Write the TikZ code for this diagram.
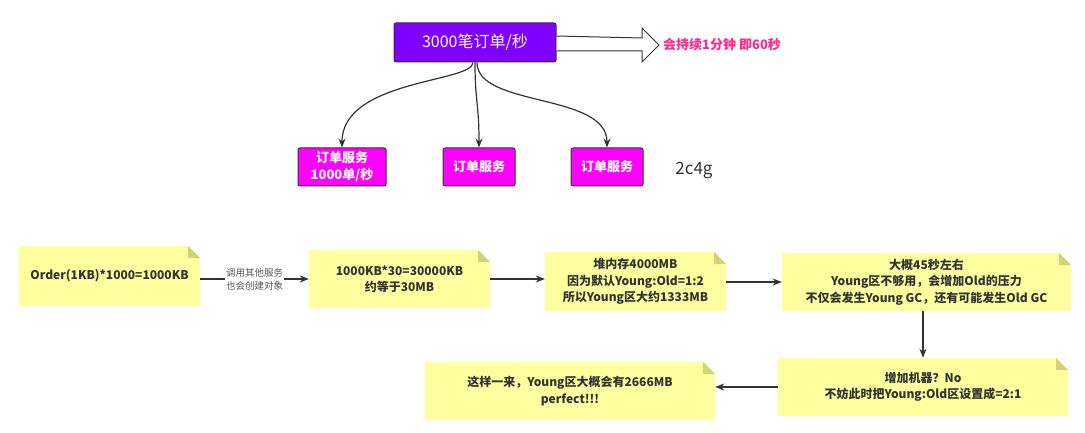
\documentclass[tikz,border=0pt]{standalone}
\usepackage{fontspec}
\setmainfont{Noto Sans CJK SC}
\usetikzlibrary{arrows.meta}
\definecolor{txt}{HTML}{333333}
\definecolor{notey}{HTML}{FFFFA0}
\definecolor{foldc}{HTML}{D2D27A}
\definecolor{purp}{HTML}{7F00FF}
\definecolor{mag}{HTML}{FF00FF}
\definecolor{pinkt}{HTML}{FF2A8A}
\definecolor{lbl}{HTML}{555555}
\tikzset{
  arr/.style={draw=txt, line width=1.2pt, -{Stealth[length=9pt,width=7pt]}},
  note/.style={inner sep=0pt, align=center, text=txt,
    font=\fontsize{12}{16.5}\selectfont\bfseries, fill=white,
    path picture={
      \fill[notey] (path picture bounding box.south west) -- (path picture bounding box.north west)
        -- ([xshift=-12pt]path picture bounding box.north east) -- ([yshift=-12pt]path picture bounding box.north east)
        -- (path picture bounding box.south east) -- cycle;
      \fill[foldc] ([xshift=-12pt]path picture bounding box.north east) -- ([yshift=-12pt]path picture bounding box.north east)
        -- ([xshift=-12pt,yshift=-12pt]path picture bounding box.north east) -- cycle;
    }},
  svc/.style={draw=txt, line width=1pt, fill=mag, rounded corners=2pt, text=white, inner sep=0pt,
    align=center, font=\fontsize{13}{17}\selectfont\bfseries, minimum height=38pt},
}
\begin{document}
\begin{tikzpicture}[x=1pt,y=-1pt]
\useasboundingbox (0,0) rectangle (1085,433);
% top box
\node[draw=txt, line width=1pt, fill=purp, rounded corners=2pt, text=white, minimum width=162pt,
  minimum height=39pt, inner sep=0pt, font=\fontsize{16}{18}\selectfont] (t) at (475,42.5) {3000笔订单/秒};
% hollow arrow
\coordinate (a1) at ([yshift=6.5pt]t.east);
\coordinate (a2) at (642,38);
\coordinate (a3) at (642,28);
\coordinate (a4) at (659,45);
\coordinate (a5) at (642,62);
\coordinate (a6) at (642,51);
\coordinate (a7) at ([yshift=-8.5pt]t.east);
\draw[draw=txt, line width=1pt, fill=white, line join=miter] (a1) -- (a2) -- (a3) -- (a4) -- (a5) -- (a6) -- (a7);
\node[anchor=west, text=pinkt, font=\fontsize{13}{15}\selectfont\bfseries, inner sep=0pt] (dur) at (663,45) {会持续1分钟 即60秒};
% services
\node[svc, minimum width=88pt] (s1) at (342,167) {订单服务\\1000单/秒};
\node[svc, minimum width=72pt] (s2) at (479,167) {订单服务};
\node[svc, minimum width=72pt] (s3) at (607,167) {订单服务};
\node[text=txt, font=\fontsize{17}{19}\selectfont, inner sep=0pt] (cfg) at (694,170) {2c4g};
\draw[arr] ([xshift=-2pt]t.south) .. controls +(0,20) and +(0,-68) .. (s1.north);
\draw[arr] (t.south) .. controls +(0,40) and +(0,-45) .. (s2.north);
\draw[arr] ([xshift=2pt]t.south) .. controls +(0,45) and +(0,-55) .. (s3.north);
% notes
\node[note, minimum width=181pt, minimum height=60pt] (n1) at (109.5,276) {Order(1KB)*1000=1000KB};
\node[note, minimum width=181pt, minimum height=58pt] (n2) at (399.5,279) {1000KB*30=30000KB\\约等于30MB};
\node[note, minimum width=181pt, minimum height=59pt] (n3) at (635.5,281.5) {堆内存4000MB\\因为默认Young:Old=1:2\\所以Young区大约1333MB};
\node[note, minimum width=289pt, minimum height=58pt] (n4) at (926.5,282) {大概45秒左右\\Young区不够用，会增加Old的压力\\不仅会发生Young GC，还有可能发生Old GC};
\node[note, minimum width=290pt, minimum height=58pt] (n5) at (923,387) {增加机器？No\\不妨此时把Young:Old区设置成=2:1};
\node[note, minimum width=290pt, minimum height=58pt] (n6) at (570,391) {这样一来，Young区大概会有2666MB\\perfect!!!};
\draw[arr] (n1.east |- n2.west) -- node[fill=white, inner sep=1pt, text=lbl, align=center,
  font=\fontsize{9.5}{13}\selectfont] (lab) {调用其他服务\\也会创建对象} (n2.west);
\draw[arr] (n2.east) -- (n2.east -| n3.west);
\draw[arr] (n3.east |- n4.west) -- (n4.west);
\draw[arr] (n5.north |- n4.south) -- (n5.north);
\draw[arr] (n5.west) -- (n5.west -| n6.east);
\end{tikzpicture}
\end{document}
